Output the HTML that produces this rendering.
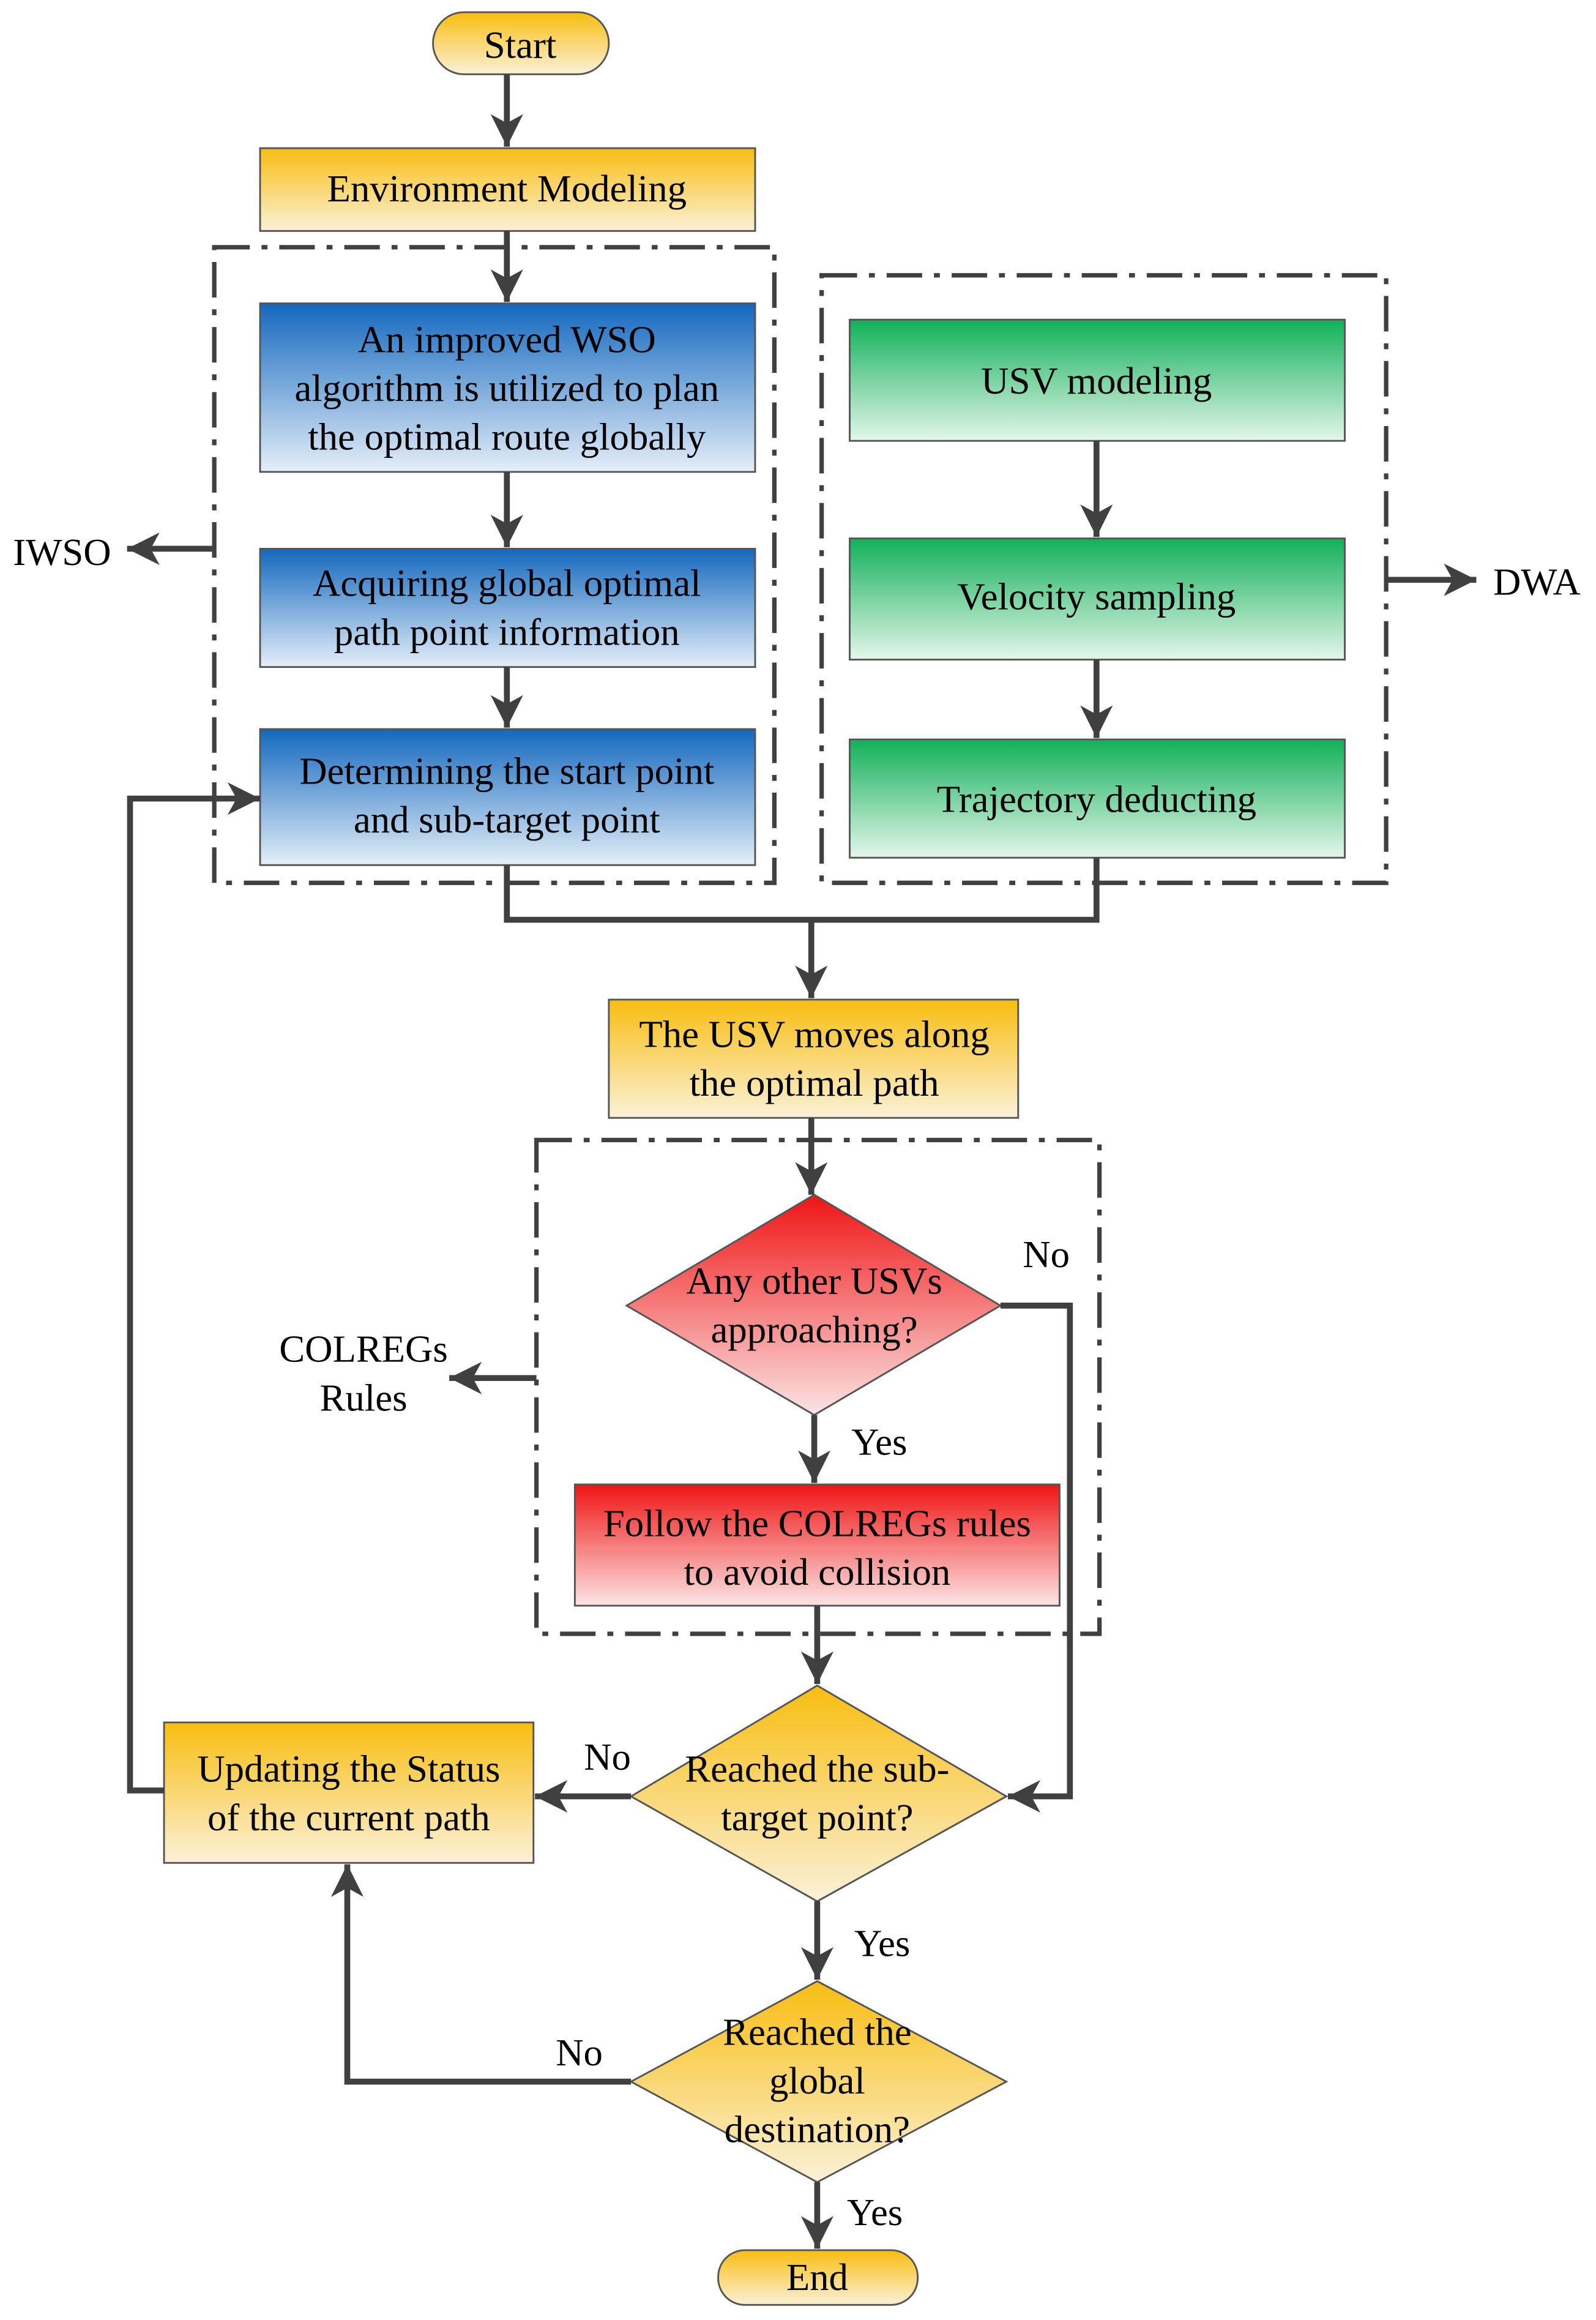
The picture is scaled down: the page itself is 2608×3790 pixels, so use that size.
<!DOCTYPE html>
<html><head><meta charset="utf-8"><style>html,body{margin:0;padding:0;background:#fff}svg{display:block}</style></head>
<body>
<svg width="2608" height="3790" viewBox="0 0 1080 1569" xmlns="http://www.w3.org/2000/svg" font-family="Liberation Serif, serif" font-size="26" text-anchor="middle">
<defs>
<linearGradient id="y" x1="0" y1="0" x2="0" y2="1"><stop offset="0" stop-color="#f8bd10"/><stop offset="1" stop-color="#fbf1d8"/></linearGradient>
<linearGradient id="b" x1="0" y1="0" x2="0" y2="1"><stop offset="0" stop-color="#1468be"/><stop offset="1" stop-color="#e4eef8"/></linearGradient>
<linearGradient id="g" x1="0" y1="0" x2="0" y2="1"><stop offset="0" stop-color="#12b05a"/><stop offset="1" stop-color="#e4f6ea"/></linearGradient>
<linearGradient id="r" x1="0" y1="0" x2="0" y2="1"><stop offset="0" stop-color="#f01414"/><stop offset="1" stop-color="#fbe4e4"/></linearGradient>
<marker id="a" markerWidth="22" markerHeight="22" refX="8" refY="4" orient="auto" markerUnits="userSpaceOnUse" viewBox="0 0 8 8">
<path d="M0,0 L8,4 L0,8 L2.2,4 Z" fill="#404040"/></marker>
</defs>
<g stroke="#404040" stroke-width="4" fill="none">
<rect x="145" y="167" width="379" height="430" stroke-dasharray="24,8,4,8" stroke-width="3"/>
<rect x="556" y="186" width="382" height="411" stroke-dasharray="24,8,4,8" stroke-width="3"/>
<rect x="363" y="771" width="381" height="334" stroke-dasharray="24,8,4,8" stroke-width="3"/>
</g>
<g stroke="#555" stroke-width="1.2">
<rect x="293" y="8" width="119" height="42" rx="21" fill="url(#y)"/>
<rect x="176" y="100" width="335" height="56" fill="url(#y)"/>
<rect x="176" y="205" width="335" height="114" fill="url(#b)"/>
<rect x="176" y="371" width="335" height="80" fill="url(#b)"/>
<rect x="176" y="493" width="335" height="92" fill="url(#b)"/>
<rect x="575" y="216" width="335" height="82" fill="url(#g)"/>
<rect x="575" y="364" width="335" height="82" fill="url(#g)"/>
<rect x="575" y="500" width="335" height="80" fill="url(#g)"/>
<rect x="412" y="676" width="277" height="80" fill="url(#y)"/>
<polygon points="551,808 677,883 551,957 424,883" fill="url(#r)"/>
<rect x="389" y="1004" width="328" height="82" fill="url(#r)"/>
<polygon points="553,1140 681,1215 553,1286 427,1215" fill="url(#y)"/>
<rect x="111" y="1165" width="250" height="95" fill="url(#y)"/>
<polygon points="553,1340 681,1408 553,1476 427,1408" fill="url(#y)"/>
<rect x="486" y="1522" width="135" height="37" rx="18" fill="url(#y)"/>
</g>
<g stroke="#404040" stroke-width="4" fill="none">
<line x1="343" y1="50" x2="343" y2="99" marker-end="url(#a)"/>
<line x1="343" y1="156" x2="343" y2="204" marker-end="url(#a)"/>
<line x1="343" y1="319" x2="343" y2="370" marker-end="url(#a)"/>
<line x1="343" y1="451" x2="343" y2="492" marker-end="url(#a)"/>
<line x1="145" y1="371" x2="86" y2="371" marker-end="url(#a)"/>
<line x1="742" y1="298" x2="742" y2="363" marker-end="url(#a)"/>
<line x1="742" y1="446" x2="742" y2="499" marker-end="url(#a)"/>
<line x1="938" y1="392" x2="999" y2="392" marker-end="url(#a)"/>
<polyline points="343,585 343,622 742,622 742,580"/>
<line x1="549" y1="622" x2="549" y2="675" marker-end="url(#a)"/>
<line x1="549" y1="756" x2="549" y2="808" marker-end="url(#a)"/>
<polyline points="677,883 724,883 724,1215 682,1215" marker-end="url(#a)"/>
<line x1="551" y1="957" x2="551" y2="1003" marker-end="url(#a)"/>
<line x1="363" y1="932" x2="304" y2="932" marker-end="url(#a)"/>
<line x1="553" y1="1086" x2="553" y2="1139" marker-end="url(#a)"/>
<line x1="427" y1="1215" x2="362" y2="1215" marker-end="url(#a)"/>
<polyline points="111,1211 88,1211 88,540 176,540" marker-end="url(#a)"/>
<line x1="553" y1="1286" x2="553" y2="1339" marker-end="url(#a)"/>
<polyline points="427,1408 235,1408 235,1261" marker-end="url(#a)"/>
<line x1="553" y1="1476" x2="553" y2="1521" marker-end="url(#a)"/>
</g>
<g fill="#000">
<text x="352" y="39">Start</text>
<text x="343" y="136">Environment Modeling</text>
<text x="343" y="238">An improved WSO</text>
<text x="343" y="271">algorithm is utilized to plan</text>
<text x="343" y="304">the optimal route globally</text>
<text x="343" y="403">Acquiring global optimal</text>
<text x="343" y="436">path point information</text>
<text x="343" y="530">Determining the start point</text>
<text x="343" y="563">and sub-target point</text>
<text x="42" y="382">IWSO</text>
<text x="742" y="266">USV modeling</text>
<text x="742" y="412">Velocity sampling</text>
<text x="742" y="549">Trajectory deducting</text>
<text x="1040" y="402">DWA</text>
<text x="551" y="708">The USV moves along</text>
<text x="551" y="741">the optimal path</text>
<text x="551" y="875">Any other USVs</text>
<text x="551" y="908">approaching?</text>
<text x="708" y="857">No</text>
<text x="595" y="984">Yes</text>
<text x="553" y="1039">Follow the COLREGs rules</text>
<text x="553" y="1072">to avoid collision</text>
<text x="246" y="921">COLREGs</text>
<text x="246" y="954">Rules</text>
<text x="553" y="1205">Reached the sub-</text>
<text x="553" y="1238">target point?</text>
<text x="411" y="1197">No</text>
<text x="236" y="1205">Updating the Status</text>
<text x="236" y="1238">of the current path</text>
<text x="597" y="1323">Yes</text>
<text x="553" y="1383">Reached the</text>
<text x="553" y="1416">global</text>
<text x="553" y="1449">destination?</text>
<text x="392" y="1397">No</text>
<text x="592" y="1505">Yes</text>
<text x="553" y="1549">End</text>
</g>
</svg>
</body></html>
